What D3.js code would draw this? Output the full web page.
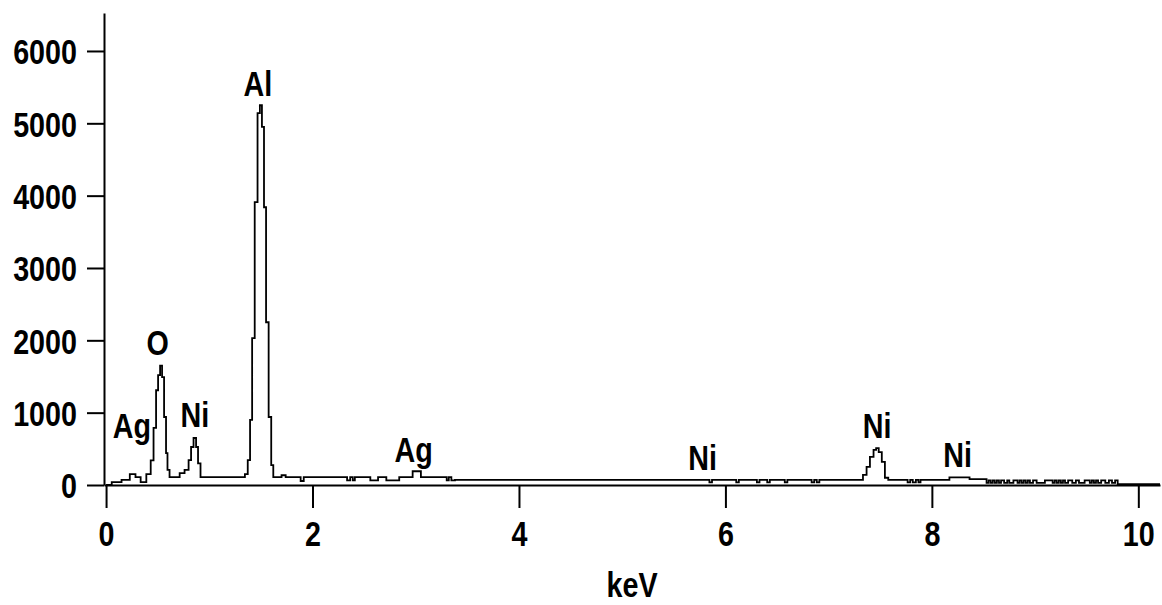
<!DOCTYPE html>
<html>
<head>
<meta charset="utf-8">
<script src="https://cdn.jsdelivr.net/npm/d3@7"></script>
<style>
  html, body { margin: 0; padding: 0; background: #fff; }
  svg { display: block; }
  text { font-family: "Liberation Sans Narrow", "Arial Narrow", "Liberation Sans", Arial, sans-serif; font-weight: bold; fill: #000; }
</style>
</head>
<body>
<svg id="chart" width="1162" height="605"></svg>
<script>
// ---- data ----
const energy = [
  0.00, 0.01, 0.10, 0.20, 0.26, 0.31, 0.36, 0.42, 0.445, 0.475, 0.494, 0.514, 0.533, 0.552, 0.572, 0.59, 0.60, 0.63,
  0.69, 0.736, 0.785, 0.814, 0.833, 0.862, 0.882, 0.90, 0.93, 1.00, 1.10, 1.20, 1.30,
  1.33, 1.36, 1.385, 1.405, 1.425, 1.455, 1.48, 1.50, 1.52, 1.54, 1.56, 1.59, 1.61, 1.63,
  1.68, 1.72, 1.76, 1.87, 1.90, 1.93, 2.10, 2.32, 2.35, 2.38, 2.40, 2.42, 2.55, 2.57, 2.70, 2.73,
  2.95, 2.99, 3.03, 3.07, 3.29, 3.31, 3.33, 3.36, 3.40,
  4.00, 5.00, 5.83, 5.86, 5.88, 6.09, 6.12, 6.14, 6.29, 6.32, 6.34, 6.39, 6.42, 6.44,
  6.56, 6.59, 6.61, 6.82, 6.85, 6.87, 6.90, 6.92, 7.00, 7.31, 7.355, 7.38, 7.42, 7.45, 7.47, 7.50, 7.53, 7.56, 7.595,
  7.75, 7.78, 7.80, 7.83, 7.86, 7.88, 7.90, 8.00, 8.16, 8.18, 8.35, 8.38, 8.52,
  8.54, 8.56, 8.58, 8.60, 8.62, 8.64, 8.66, 8.68, 8.72, 8.74, 8.76,
  8.82, 8.84, 8.86, 8.88, 8.90, 8.92, 8.94, 8.96, 9.00, 9.03,
  9.16, 9.18, 9.20, 9.22, 9.24, 9.26, 9.28, 9.30, 9.34, 9.38, 9.41, 9.44,
  9.52, 9.54, 9.56, 9.58, 9.60, 9.62, 9.66, 9.70, 9.73, 9.76, 9.79, 9.81, 10.00, 10.21
];
const counts = [
  0, 0, 40, 70, 150, 110, 40, 150, 340, 790, 1310, 1520, 1650, 1490, 940, 440, 210, 110,
  110, 165, 210, 345, 525, 650, 525, 300, 110, 110, 110, 110, 110,
  110, 150, 345, 900, 2030, 3910, 5140, 5250, 4950, 3840, 2250, 940, 275, 110,
  110, 135, 110, 110, 55, 110, 110, 110, 65, 110, 65, 110, 110, 65, 110, 65,
  110, 190, 190, 110, 110, 65, 110, 65, 70,
  70, 70, 70, 35, 70, 70, 35, 70, 70, 35, 70, 70, 35, 70,
  70, 35, 70, 70, 35, 70, 35, 70, 70, 70, 140, 250, 390, 485, 510, 455, 320, 100, 70,
  70, 35, 70, 35, 70, 35, 70, 70, 70, 105, 105, 80, 80,
  30, 65, 30, 65, 30, 65, 30, 65, 30, 65, 30,
  65, 30, 65, 30, 65, 30, 65, 30, 65, 30,
  65, 30, 65, 30, 65, 30, 65, 30, 65, 30, 65, 30,
  65, 30, 65, 30, 65, 30, 65, 30, 65, 30, 65, 12, 12, 12
];
const yTicks = [0, 1000, 2000, 3000, 4000, 5000, 6000];
const xTicks = [0, 2, 4, 6, 8, 10];
const peakNames  = ["Ag", "O", "Ni", "Al", "Ag", "Ni", "Ni", "Ni"];
const peakEnergy = [0.25, 0.50, 0.86, 1.47, 2.98, 5.78, 7.47, 8.25];
const peakCount  = [650, 1800, 800, 5380, 320, 210, 650, 250];
const xTitle = "keV";

// ---- drawing ----
const svg = d3.select("#chart");
const x = d3.scaleLinear().domain([-0.02, 10.21]).range([104, 1160]);
const y = d3.scaleLinear().domain([0, 6525]).range([485, 13]);
const FS = 35;
const SQUEEZE = 0.82; // condensed look of the original narrow typeface

const data = energy.map((e, i) => ({ e, c: counts[i] }));

// spectrum line
svg.append("path")
  .datum(data)
  .attr("fill", "none")
  .attr("stroke", "#000")
  .attr("stroke-width", 1.8)
  .attr("d", d3.line().x(d => x(d.e)).y(d => y(d.c)).curve(d3.curveStep));

// y axis
const yAxis = svg.append("g")
  .attr("transform", `translate(${x(-0.02)},0)`)
  .call(d3.axisLeft(y).tickValues(yTicks).tickSize(17).tickSizeOuter(0).tickPadding(10).tickFormat(d3.format("d")));
yAxis.select(".domain").attr("stroke", "#000").attr("stroke-width", 2);
yAxis.selectAll(".tick line").attr("stroke", "#000").attr("stroke-width", 2);
yAxis.selectAll("text").attr("font-size", FS).attr("dy", "0.37em");

// x axis
const xAxis = svg.append("g")
  .attr("transform", `translate(0,${y(0)})`)
  .call(d3.axisBottom(x).tickValues(xTicks).tickSize(23).tickSizeOuter(0).tickFormat(d3.format("d")));
xAxis.select(".domain").attr("stroke", "#000").attr("stroke-width", 2);
xAxis.selectAll(".tick line").attr("stroke", "#000").attr("stroke-width", 2);
xAxis.selectAll("text").attr("font-size", FS).attr("dy", null).attr("y", 61);
svg.selectAll("g").attr("font-family", null);

// axis title
svg.append("text")
  .attr("x", (x.range()[0] + x.range()[1]) / 2)
  .attr("y", 597)
  .attr("text-anchor", "middle")
  .attr("font-size", FS)
  .text(xTitle);

// peak labels
svg.append("g").selectAll("text")
  .data(peakNames)
  .join("text")
  .attr("x", (d, i) => x(peakEnergy[i]))
  .attr("y", (d, i) => y(peakCount[i]))
  .attr("text-anchor", "middle")
  .attr("font-size", FS)
  .text(d => d);

// condense every text horizontally around its own anchor
svg.selectAll("text").each(function () {
  const t = d3.select(this);
  const tx = +t.attr("x") || 0;
  t.attr("x", tx / SQUEEZE).attr("transform", `scale(${SQUEEZE},1)`);
});
</script>
</body>
</html>
